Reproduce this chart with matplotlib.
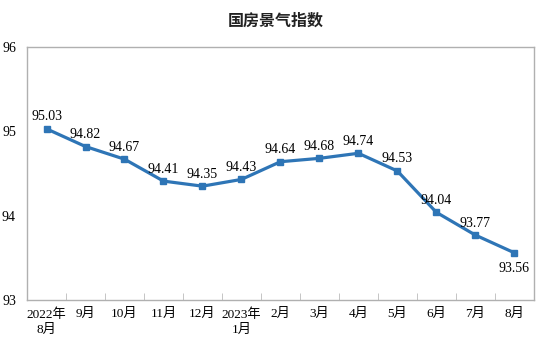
import matplotlib
matplotlib.use('Agg')
import matplotlib.pyplot as plt

plt.rcParams['font.family'] = ['Liberation Serif', 'Noto Sans CJK SC']

months = ['2022年\n8月', '9月', '10月', '11月', '12月', '2023年\n1月', '2月',
          '3月', '4月', '5月', '6月', '7月', '8月']
values = [95.03, 94.82, 94.67, 94.41, 94.35, 94.43, 94.64,
          94.68, 94.74, 94.53, 94.04, 93.77, 93.56]
yticks = [93, 94, 95, 96]

fig = plt.figure(figsize=(5.52, 3.46), dpi=100)
ax = fig.add_axes([0.049, 0.133, 0.918, 0.731])

x = list(range(len(values)))
ax.plot(x, values, color='#2E75B6', lw=2.3, marker='s', ms=4.5, zorder=3)

for i, v in enumerate(values):
    if i == len(values) - 1:
        ax.annotate(f'{v:.2f}', (i, v), xytext=(0, -7), textcoords='offset points',
                    ha='center', va='top', fontsize=10)
    else:
        ax.annotate(f'{v:.2f}', (i, v), xytext=(0, 4), textcoords='offset points',
                    ha='center', va='bottom', fontsize=10)

ax.set_xlim(-0.5, len(values) - 0.5)
ax.set_ylim(93, 96)
ax.set_yticks(yticks)
ax.set_yticklabels([str(t) for t in yticks], fontsize=10)
ax.tick_params(axis='y', length=0, pad=8)

ax.set_xticks(x)
ax.set_xticklabels(months, fontsize=9.5, linespacing=1.3)
ax.tick_params(axis='x', length=0, pad=6)
ax.set_xticks([i + 0.5 for i in x[:-1]], minor=True)
ax.tick_params(axis='x', which='minor', direction='in', length=5, color='#bbbbbb')

for s in ax.spines.values():
    s.set_color('#b0b0b0')
    s.set_linewidth(1)

fig.text(0.5, 0.94, '国房景气指数', ha='center', va='center', fontsize=11.5,
         family=['Noto Sans CJK SC'], fontweight='bold', color='#222222')

fig.savefig('out.png', dpi=100)
